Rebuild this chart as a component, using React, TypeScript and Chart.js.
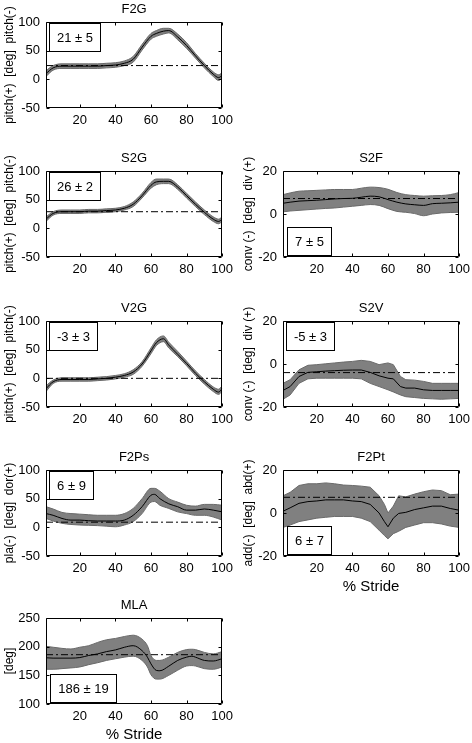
import React, { useEffect, useRef } from "react";
import { Chart, registerables } from "chart.js";

Chart.register(...registerables);

// ---------- data ----------
const X_TICKS = [20, 40, 60, 80, 100];
const PITCH_TICKS = [-50, 0, 50, 100];
const DIV_TICKS = [-20, 0, 20];
const MLA_TICKS = [100, 150, 200, 250];

const PITCH_X = [1, 5, 10, 15, 20, 25, 30, 35, 40, 45, 50, 55, 60, 63, 67, 70, 75, 80, 85, 90, 95, 98, 100];

const F2G_MEAN = [10, 20, 23, 23, 23, 23, 23, 24, 25, 28, 35, 56, 75, 80, 84, 85, 74, 59, 41, 24, 9, 3, 7];
const F2G_UPPER = [15, 24, 27, 27, 27, 27, 27, 28, 29, 32, 40, 61, 80, 85, 89, 89, 79, 64, 45, 28, 13, 8, 12];
const F2G_LOWER = [5, 16, 19, 19, 19, 19, 19, 20, 21, 24, 30, 51, 70, 75, 79, 81, 69, 54, 37, 20, 5, -2, 2];
const F2G_REF = 24;

const S2G_MEAN = [16, 26, 29, 29, 29, 30, 30, 31, 32, 35, 42, 57, 75, 81, 82, 82, 72, 57, 42, 28, 16, 12, 16];
const S2G_UPPER = [20, 29, 32, 32, 32, 33, 33, 34, 35, 38, 46, 61, 80, 86, 86, 86, 76, 61, 46, 32, 20, 16, 20];
const S2G_LOWER = [12, 23, 26, 26, 26, 27, 27, 28, 29, 32, 38, 53, 70, 76, 78, 78, 68, 53, 38, 24, 12, 8, 12];
const S2G_REF = 29;

const V2G_MEAN = [-18, -6, -2, -2, -2, -2, -1, 0, 2, 5, 11, 25, 48, 62, 69, 58, 42, 26, 9, -6, -19, -24, -18];
const V2G_UPPER = [-13, -3, 1, 1, 1, 1, 2, 3, 5, 8, 15, 29, 53, 67, 74, 63, 47, 30, 13, -2, -15, -19, -13];
const V2G_LOWER = [-23, -9, -5, -5, -5, -5, -4, -3, -1, 2, 7, 21, 43, 57, 64, 53, 38, 22, 5, -10, -23, -28, -23];
const V2G_REF = 0;

const S2F_X = [1, 5, 10, 15, 20, 25, 30, 35, 40, 45, 50, 55, 60, 65, 70, 75, 80, 85, 90, 95, 100];
const S2F_MEAN = [5, 5.5, 6, 6.2, 6.4, 6.7, 7, 7.2, 7.3, 7.8, 8.3, 8, 6.7, 5.5, 4.7, 4.3, 4, 4.8, 5, 5.2, 5.5];
const S2F_UPPER = [9, 9.8, 10.6, 10.8, 11, 11.2, 11.4, 11.4, 11.4, 12, 12.5, 12.3, 11.5, 10, 9, 8.6, 8.3, 8.5, 8.6, 9, 10];
const S2F_LOWER = [1, 1.4, 1.7, 2, 2.3, 2.6, 2.8, 3.2, 3.6, 4, 4.4, 4, 2.5, 1.2, 0.8, 0.2, -0.8, 0, 0.5, 0.7, 0.8];
const S2F_REF = 7.2;

const S2V_X = [1, 5, 10, 15, 20, 25, 30, 35, 40, 45, 50, 55, 60, 63, 67, 70, 75, 80, 85, 90, 95, 100];
const S2V_MEAN = [-12.3, -10.5, -5.8, -3.9, -3.6, -3.3, -3.1, -2.9, -2.8, -2.8, -3.9, -5.5, -6.6, -6.9, -10.5, -11.2, -11.2, -12, -12.3, -12.3, -12.3, -12.3];
const S2V_UPPER = [-9, -7.3, -2.7, -0.6, -0.3, 0.1, 0.5, 0.9, 1.2, 1.7, 1.2, -0.3, 0.5, -0.3, -5.8, -7.3, -7.5, -8.1, -9, -9, -9, -9];
const S2V_LOWER = [-16.4, -14.4, -9, -6.9, -6.6, -6.6, -6.6, -6.6, -6.6, -6.9, -9, -10.5, -12, -13, -14.4, -15.2, -15.6, -16, -16.2, -16.4, -16.2, -16];
const S2V_REF = -4;

const F2PS_X = [1, 5, 10, 15, 20, 25, 30, 35, 40, 45, 50, 55, 60, 62, 65, 70, 75, 80, 85, 90, 95, 100];
const F2PS_MEAN = [24, 21, 15.5, 12.6, 12.6, 11.5, 11, 11, 11, 12.6, 21, 36, 56, 57.5, 50, 41, 36, 30, 30, 32, 30, 27];
const F2PS_UPPER = [36, 32, 26, 24, 23, 22, 21, 21, 21, 24, 33, 50, 68, 68, 63, 50, 44, 38.5, 37, 40, 40, 38.5];
const F2PS_LOWER = [15.5, 11, 7, 5, 4, 3.5, 3, 2, 1, 4, 10, 24, 44, 45, 38.5, 33, 27, 24, 21, 21, 18, 12.6];
const F2PS_REF = 9;

const F2PT_X = [1, 5, 10, 15, 20, 25, 30, 35, 40, 45, 50, 55, 58, 60, 63, 66, 70, 75, 80, 85, 90, 95, 100];
const F2PT_MEAN = [0.8, 2.4, 4.5, 5.3, 5.6, 6.1, 6.1, 6.1, 5.6, 5.3, 4, 0, -4, -6.4, -2.4, -0.2, 0.3, 1.6, 2.4, 3.2, 3.2, 2.1, 1.3];
const F2PT_UPPER = [8, 9.6, 12.8, 13.6, 13.6, 14, 13.6, 13, 12.8, 12.5, 12, 8, 4, 0, 3.2, 8, 7.5, 8.8, 9.9, 10.7, 10.4, 8.5, 8.8];
const F2PT_LOWER = [-6.7, -5.6, -4, -3.2, -2.4, -2, -1.6, -1.6, -1.6, -2.4, -4, -8, -10.5, -12, -9.6, -8.5, -6.7, -5.6, -4.5, -4.5, -5.1, -6.1, -6.7];
const F2PT_REF = 7.3;

const MLA_X = [1, 5, 10, 15, 20, 25, 30, 35, 40, 45, 50, 55, 58, 60, 63, 65, 70, 75, 80, 83, 85, 90, 95, 100];
const MLA_MEAN = [180.6, 180, 180, 180, 181, 184.6, 187.4, 191.4, 194.3, 198.9, 201.7, 193, 181.7, 170, 158.6, 158, 166, 176, 181.7, 183.4, 181.7, 176, 175, 179];
const MLA_UPPER = [200.6, 199, 197, 196, 199, 201.7, 207.4, 212, 214.3, 217.7, 220, 213, 201.7, 184.6, 176, 176, 181.7, 190, 194.9, 195.5, 194.9, 190, 187.4, 191.4];
const MLA_LOWER = [160.6, 160.6, 161.7, 162.9, 164.6, 168.6, 172, 176, 178.9, 181.7, 183.4, 176, 164.6, 151, 143.4, 143.4, 150, 158.9, 166.3, 167, 166.3, 161.7, 160.6, 164.6];
const MLA_REF = 186;

// ---------- panel config ----------
const FONT = '"Liberation Sans", Arial, Helvetica, sans-serif';

type PanelCfg = {
  title: string;
  yTitle: string;
  label: string;
  x: number[];
  mean: number[];
  upper: number[];
  lower: number[];
  ref: number;
  yMin: number;
  yMax: number;
  yTicks: number[];
  plotLeft: number;
  plotTop: number;
  box: "tl" | "bl";
  xTitle: boolean;
  smooth: boolean;
  yTitlePad: number;
};

const LEFT = 46;
const RIGHT = 283;
const TOPS = [22, 171, 321, 470, 618];

const PANELS: PanelCfg[] = [
  { title: "F2G", yTitle: "pitch(+)  [deg]  pitch(-)", label: "21 ± 5", x: PITCH_X, mean: F2G_MEAN, upper: F2G_UPPER, lower: F2G_LOWER, ref: F2G_REF, yMin: -50, yMax: 100, yTicks: PITCH_TICKS, plotLeft: LEFT, plotTop: TOPS[0], box: "tl", xTitle: false, smooth: true, yTitlePad: 2 },
  { title: "S2G", yTitle: "pitch(+)  [deg]  pitch(-)", label: "26 ± 2", x: PITCH_X, mean: S2G_MEAN, upper: S2G_UPPER, lower: S2G_LOWER, ref: S2G_REF, yMin: -50, yMax: 100, yTicks: PITCH_TICKS, plotLeft: LEFT, plotTop: TOPS[1], box: "tl", xTitle: false, smooth: true, yTitlePad: 2 },
  { title: "V2G", yTitle: "pitch(+)  [deg]  pitch(-)", label: "-3 ± 3", x: PITCH_X, mean: V2G_MEAN, upper: V2G_UPPER, lower: V2G_LOWER, ref: V2G_REF, yMin: -50, yMax: 100, yTicks: PITCH_TICKS, plotLeft: LEFT, plotTop: TOPS[2], box: "tl", xTitle: false, smooth: true, yTitlePad: 2 },
  { title: "F2Ps", yTitle: "pla(-)  [deg]  dor(+)", label: "6 ± 9", x: F2PS_X, mean: F2PS_MEAN, upper: F2PS_UPPER, lower: F2PS_LOWER, ref: F2PS_REF, yMin: -50, yMax: 100, yTicks: PITCH_TICKS, plotLeft: LEFT, plotTop: TOPS[3], box: "tl", xTitle: false, smooth: true, yTitlePad: 2 },
  { title: "MLA", yTitle: "[deg]", label: "186 ± 19", x: MLA_X, mean: MLA_MEAN, upper: MLA_UPPER, lower: MLA_LOWER, ref: MLA_REF, yMin: 100, yMax: 250, yTicks: MLA_TICKS, plotLeft: LEFT, plotTop: TOPS[4], box: "bl", xTitle: true, smooth: true, yTitlePad: 2 },
  { title: "S2F", yTitle: "conv (-)  [deg]  div (+)", label: "7 ± 5", x: S2F_X, mean: S2F_MEAN, upper: S2F_UPPER, lower: S2F_LOWER, ref: S2F_REF, yMin: -20, yMax: 20, yTicks: DIV_TICKS, plotLeft: RIGHT, plotTop: TOPS[1], box: "bl", xTitle: false, smooth: true, yTitlePad: 4 },
  { title: "S2V", yTitle: "conv (-)  [deg]  div (+)", label: "-5 ± 3", x: S2V_X, mean: S2V_MEAN, upper: S2V_UPPER, lower: S2V_LOWER, ref: S2V_REF, yMin: -20, yMax: 20, yTicks: DIV_TICKS, plotLeft: RIGHT, plotTop: TOPS[2], box: "tl", xTitle: false, smooth: false, yTitlePad: 4 },
  { title: "F2Pt", yTitle: "add(-)  [deg]  abd(+)", label: "6 ± 7", x: F2PT_X, mean: F2PT_MEAN, upper: F2PT_UPPER, lower: F2PT_LOWER, ref: F2PT_REF, yMin: -20, yMax: 20, yTicks: DIV_TICKS, plotLeft: RIGHT, plotTop: TOPS[3], box: "bl", xTitle: true, smooth: false, yTitlePad: 4 },
];

const Y_AXIS_W = 46;
const TOP_PAD = 20;
const PLOT_W = 180;
const PLOT_H = 86;
const RIGHT_PAD = 12;

const framePlugin = {
  id: "frame",
  afterDatasetsDraw(chart: any, _args: any, opts: any) {
    const { ctx, chartArea: a, scales } = chart;
    ctx.save();
    const l = Math.round(a.left) + 0.5;
    const r = Math.round(a.right) - 0.5;
    const t = Math.round(a.top) + 0.5;
    const b = Math.round(a.bottom) - 0.5;
    ctx.strokeStyle = "#000";
    ctx.lineWidth = 1;
    ctx.beginPath();
    ctx.rect(l, t, r - l, b - t);
    ctx.stroke();
    // inward ticks
    const tl = 3;
    ctx.beginPath();
    for (const v of X_TICKS) {
      const px = Math.round(scales.x.getPixelForValue(v)) + 0.5;
      ctx.moveTo(px, b);
      ctx.lineTo(px, b - tl);
      ctx.moveTo(px, t);
      ctx.lineTo(px, t + tl);
    }
    for (const v of opts.yTicks) {
      const py = Math.round(scales.y.getPixelForValue(v)) + 0.5;
      ctx.moveTo(l, py);
      ctx.lineTo(l + tl, py);
      ctx.moveTo(r, py);
      ctx.lineTo(r - tl, py);
    }
    ctx.stroke();
    // panel title
    ctx.fillStyle = "#000";
    ctx.font = `13px ${FONT}`;
    ctx.textAlign = "center";
    ctx.textBaseline = "middle";
    ctx.fillText(opts.title, (a.left + a.right) / 2, a.top - 13);
    // annotation box
    const tw = ctx.measureText(opts.label).width;
    const bw = Math.round(tw + 15);
    const bh = 28;
    const bx = opts.box === "tl" ? Math.round(a.left) + 3 : Math.round(a.left) + 4;
    const by = opts.box === "tl" ? Math.round(a.top) + 1 : Math.round(a.bottom) - 2 - bh;
    ctx.fillStyle = "#fff";
    ctx.fillRect(bx, by, bw, bh);
    ctx.strokeStyle = "#000";
    ctx.strokeRect(bx + 0.5, by + 0.5, bw, bh);
    ctx.fillStyle = "#000";
    ctx.fillText(opts.label, bx + bw / 2 + 0.5, by + bh / 2 + 1);
    ctx.restore();
  },
};

function Panel({ cfg }: { cfg: PanelCfg }) {
  const ref = useRef<HTMLCanvasElement>(null);
  const xAxisH = cfg.xTitle ? 42 : 22;
  const W = Y_AXIS_W + PLOT_W + RIGHT_PAD;
  const H = TOP_PAD + PLOT_H + xAxisH;

  useEffect(() => {
    const pts = (ys: number[]) => cfg.x.map((x, i) => ({ x, y: ys[i] }));
    const tension = cfg.smooth ? 0.4 : 0;
    const chart = new Chart(ref.current as HTMLCanvasElement, {
      type: "line",
      data: {
        datasets: [
          {
            data: [{ x: 1, y: cfg.ref }, { x: 100, y: cfg.ref }],
            borderColor: "#000",
            borderWidth: 1,
            borderDash: [7, 3, 2, 3],
            pointRadius: 0,
            fill: false,
          },
          {
            data: pts(cfg.mean),
            borderColor: "#000",
            borderWidth: 1,
            pointRadius: 0,
            tension,
            cubicInterpolationMode: cfg.smooth ? "monotone" : "default",
            fill: false,
          },
          {
            data: pts(cfg.upper),
            borderColor: "#6a6a6a",
            borderWidth: 1,
            pointRadius: 0,
            tension,
            cubicInterpolationMode: cfg.smooth ? "monotone" : "default",
            fill: false,
          },
          {
            data: pts(cfg.lower),
            borderColor: "#6a6a6a",
            backgroundColor: "#808080",
            borderWidth: 1,
            pointRadius: 0,
            tension,
            cubicInterpolationMode: cfg.smooth ? "monotone" : "default",
            fill: "-1",
          },
        ],
      } as any,
      options: {
        animation: false,
        responsive: false,
        events: [],
        layout: { padding: { top: TOP_PAD, right: RIGHT_PAD, left: 0, bottom: 0 } },
        plugins: {
          legend: { display: false },
          tooltip: { enabled: false },
          title: { display: false },
          frame: { title: cfg.title, label: cfg.label, box: cfg.box, yTicks: cfg.yTicks },
        } as any,
        scales: {
          x: {
            type: "linear",
            min: 1,
            max: 100,
            grid: { display: false, drawTicks: false },
            border: { display: false },
            afterBuildTicks: (s: any) => {
              s.ticks = X_TICKS.map((v) => ({ value: v }));
            },
            afterFit: (s: any) => {
              s.height = xAxisH;
            },
            ticks: {
              padding: 5,
              color: "#000",
              font: { family: FONT, size: 13 },
              maxRotation: 0,
              autoSkip: false,
            },
            title: {
              display: cfg.xTitle,
              text: "% Stride",
              color: "#000",
              font: { family: FONT, size: 15 },
              padding: { top: 0, bottom: 2 },
            },
          },
          y: {
            type: "linear",
            min: cfg.yMin,
            max: cfg.yMax,
            grid: { display: false, drawTicks: false },
            border: { display: false },
            afterBuildTicks: (s: any) => {
              s.ticks = cfg.yTicks.map((v) => ({ value: v }));
            },
            afterFit: (s: any) => {
              s.width = Y_AXIS_W;
            },
            ticks: {
              padding: 6,
              color: "#000",
              font: { family: FONT, size: 13 },
              autoSkip: false,
            },
            title: {
              display: true,
              text: cfg.yTitle,
              color: "#000",
              font: { family: FONT, size: 12 },
              padding: { top: cfg.yTitlePad, bottom: 0 },
            },
          },
        },
      } as any,
      plugins: [framePlugin],
    });
    return () => chart.destroy();
  }, []);

  return (
    <canvas
      ref={ref}
      width={W}
      height={H}
      style={{
        position: "absolute",
        left: cfg.plotLeft - Y_AXIS_W,
        top: cfg.plotTop - TOP_PAD,
        width: W,
        height: H,
      }}
    />
  );
}

export default function App() {
  return (
    <div
      style={{
        position: "absolute",
        left: 0,
        top: 0,
        width: 472,
        height: 743,
        overflow: "hidden",
        background: "#fff",
      }}
    >
      {PANELS.map((p) => (
        <Panel key={p.title} cfg={p} />
      ))}
    </div>
  );
}
